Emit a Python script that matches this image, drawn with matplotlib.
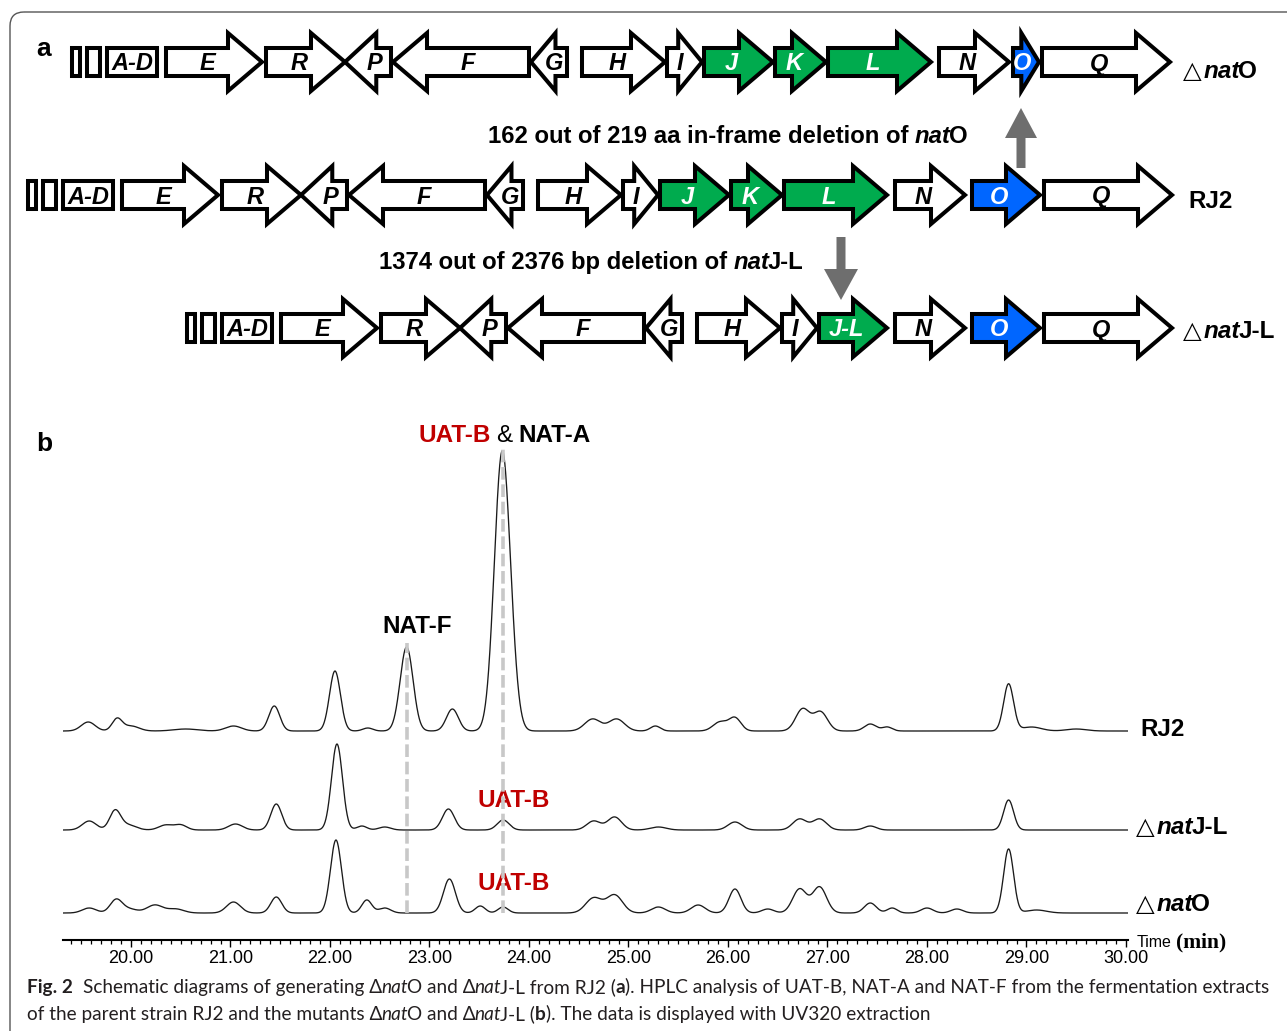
import matplotlib
matplotlib.use("Agg")
import matplotlib.pyplot as plt
from matplotlib.patches import Polygon, FancyBboxPatch, FancyArrow
from matplotlib.ticker import MultipleLocator
from matplotlib.transforms import offset_copy
import numpy as np

plt.rcParams["font.family"] = ["Liberation Sans", "DejaVu Sans"]

# ---- panel a: nat gene cluster of RJ2, left to right (map units) ----
gene_names = ["", "", "A-D", "E", "R", "P", "F", "G", "H", "I", "J", "K", "L", "N", "O", "Q"]
gene_len = [8, 13, 50, 96, 79, 46, 136, 36, 83, 35, 69, 51, 103, 70, 68, 128]
gene_gap = [0, 7, 7, 9, 4, 0, 2, 2, 15, 2, 2, 2, 2, 8, 7, 4]
gene_strand = [0, 0, 0, 1, 1, -1, -1, -1, 1, 1, 1, 1, 1, 1, 1, 1]
gene_group = ["other"] * 10 + ["jkl"] * 3 + ["other", "o", "other"]

natO_left = 26      # what is left of natO after the in-frame deletion
natJL_len = 68      # natJ-L remnant

# ---- panel b: HPLC peak tables (retention time, height, width) ----
rt_rj2 = [19.57, 19.86, 20.00, 20.55, 21.03, 21.44, 22.05, 22.38, 22.77, 23.23, 23.72, 23.80,
          24.64, 24.88, 25.27, 25.92, 26.07, 26.75, 26.93, 27.43, 27.60, 28.82, 29.05, 29.50]
h_rj2 = [9, 12, 5, 2, 5, 25, 60, 3, 84, 22, 246, 60,
         12, 12, 5, 9, 13, 22, 19, 7, 4, 47, 4, 2]
w_rj2 = [0.07, 0.05, 0.08, 0.12, 0.08, 0.055, 0.055, 0.05, 0.065, 0.06, 0.075, 0.07,
         0.08, 0.08, 0.05, 0.07, 0.06, 0.07, 0.07, 0.06, 0.05, 0.05, 0.1, 0.1]

rt_jl = [19.58, 19.84, 19.97, 20.35, 20.50, 21.05, 21.46, 22.07, 22.32, 22.55, 23.19, 23.74,
         24.65, 24.86, 25.30, 26.07, 26.72, 26.92, 27.43, 28.82]
h_jl = [9, 19, 5, 5, 5, 6, 26, 86, 4, 3, 21, 10,
        9, 13, 3, 8, 11, 11, 4, 30]
w_jl = [0.07, 0.055, 0.08, 0.07, 0.06, 0.07, 0.055, 0.055, 0.05, 0.06, 0.06, 0.06,
        0.07, 0.07, 0.08, 0.07, 0.07, 0.07, 0.06, 0.05]

rt_o = [19.58, 19.85, 19.98, 20.24, 20.45, 21.03, 21.46, 22.06, 22.37, 22.55, 23.20, 23.51, 23.74,
        24.65, 24.86, 25.30, 25.70, 26.07, 26.40, 26.72, 26.92, 27.43, 27.65, 28.00, 28.30, 28.82, 29.10]
h_o = [5, 13, 4, 8, 4, 11, 16, 73, 13, 5, 34, 7, 6,
       15, 18, 6, 8, 24, 4, 24, 26, 10, 5, 5, 4, 64, 3]
w_o = [0.07, 0.06, 0.08, 0.08, 0.08, 0.07, 0.055, 0.055, 0.05, 0.06, 0.06, 0.05, 0.05,
       0.08, 0.08, 0.07, 0.07, 0.06, 0.06, 0.07, 0.07, 0.06, 0.05, 0.06, 0.06, 0.05, 0.1]

rt_natF, rt_natA = 22.77, 23.74
xticks = [20, 21, 22, 23, 24, 25, 26, 27, 28, 29, 30]

fill = {"other": "white", "jkl": "#00AB4E", "o": "#0066FF"}
B = dict(fontweight="bold")
BI = dict(fontweight="bold", fontstyle="italic")
TRI = dict(family="DejaVu Sans")

fig = plt.figure(figsize=(12.87, 10.31), dpi=100)
ov = fig.add_axes([0, 0, 1, 1])
ov.set_xlim(0, 1287)
ov.set_ylim(1031, 0)
ov.axis("off")


def rich(x, y, pieces, size, ha="left", color="black"):
    r = fig.canvas.get_renderer()
    made = []
    for s, style, gap in pieces:
        kw = dict(fontsize=size, color=color)
        kw.update(style)
        t = ov.text(x, y, s, va="baseline", ha="left", **kw)
        made.append((t, t.get_window_extent(r).width + gap))
    total = sum(w for _, w in made)
    dx = {"left": 0, "center": -total / 2, "right": -total}[ha]
    for t, w in made:
        t.set_transform(offset_copy(ov.transData, fig=fig, x=dx, y=0, units="dots"))
        dx += w
    return total, [t for t, _ in made]


def strain(x, y, gene, size=17.5):
    rich(x, y, [("△", TRI, 2), ("nat", BI, -2), (gene, B, 0)], size)


def gene_arrow(x0, x1, yc, st, fc):
    bh, hh = 14, 29
    hl = min(34, 0.68 * (x1 - x0))
    if st == 0:
        pts = [(x0, yc - bh), (x1, yc - bh), (x1, yc + bh), (x0, yc + bh)]
    elif st > 0:
        xb = x1 - hl
        pts = [(x0, yc - bh), (xb, yc - bh), (xb, yc - hh), (x1, yc),
               (xb, yc + hh), (xb, yc + bh), (x0, yc + bh)]
    else:
        xb = x0 + hl
        pts = [(x1, yc - bh), (xb, yc - bh), (xb, yc - hh), (x0, yc),
               (xb, yc + hh), (xb, yc + bh), (x1, yc + bh)]
    ov.add_patch(Polygon(pts, closed=True, fc=fc, ec="black", lw=2.9, joinstyle="miter"))
    return hl


def draw_row(x, yc, names, lens, gaps, strands, groups):
    for name, L, g, st, grp in zip(names, lens, gaps, strands, groups):
        x0 = x + g
        x1 = x0 + L
        hl = gene_arrow(x0, x1, yc, st, fill[grp])
        if name:
            xc = (x0 + x1) / 2 - st * 0.2 * hl
            ov.text(xc, yc + 8.5, name, ha="center", va="baseline", fontsize=17,
                    color="black" if grp == "other" else "white", **BI)
        x = x1


# RJ2 (wild type)
draw_row(28, 195, gene_names, gene_len, gene_gap, gene_strand, gene_group)

# delta natO: natO shortened
lens_o = list(gene_len)
gaps_o = list(gene_gap)
lens_o[14] = natO_left
gaps_o[14], gaps_o[15] = 4, 3
draw_row(72, 62, gene_names, lens_o, gaps_o, gene_strand, gene_group)

# delta natJ-L: J, K, L merged into the J-L remnant
names_jl = gene_names[:10] + ["J-L"] + gene_names[13:]
lens_jl = gene_len[:10] + [natJL_len] + gene_len[13:]
gaps_jl = gene_gap[:10] + [2] + gene_gap[13:]
strand_jl = gene_strand[:10] + [1] + gene_strand[13:]
group_jl = gene_group[:10] + ["jkl"] + gene_group[13:]
draw_row(187, 328, names_jl, lens_jl, gaps_jl, strand_jl, group_jl)

# grey arrows between rows
ov.add_patch(FancyArrow(1021, 168, 0, -60, width=9, head_width=32, head_length=30,
                        length_includes_head=True, color="#6e6e6e", lw=0))
ov.add_patch(FancyArrow(841, 237, 0, 63, width=9, head_width=34, head_length=31,
                        length_includes_head=True, color="#6e6e6e", lw=0))

rich(728, 143, [("162 out of 219 aa in-frame deletion of", B, 6), ("nat", BI, -2), ("O", B, 0)],
     17.2, ha="center")
rich(591, 269, [("1374 out of 2376 bp deletion of", B, 6), ("nat", BI, -2), ("J-L", B, 0)],
     17.2, ha="center")

strain(1183, 78, "O")
ov.text(1188, 208, "RJ2", fontsize=17.5, va="baseline", **B)
strain(1183, 338, "J-L")

ov.text(36, 56, "a", fontsize=19, va="baseline", **B)
ov.text(36, 451, "b", fontsize=19, va="baseline", **B)

# frame
ov.add_patch(FancyBboxPatch((10, 12), 1400, 1100, boxstyle="round,pad=0,rounding_size=14",
                            fc="none", ec="#555555", lw=1.0))

# ---- panel b: chromatograms ----
px_per_min = 99.5
t_lo = 20 - 68 / px_per_min
t_hi = t_lo + 1065 / px_per_min
ax = fig.add_axes([63 / 1287, 91 / 1031, 1065 / 1287, 510 / 1031])
ax.set_facecolor("none")
ax.set_xlim(t_lo, t_hi)
ax.set_ylim(0, 510)

t = np.linspace(t_lo, t_hi, 4000)


def trace(rt, h, w):
    y = np.zeros_like(t)
    for c, a, s in zip(rt, h, w):
        y += a * np.exp(-0.5 * ((t - c) / s) ** 2)
    return y


base_rj2, base_jl, base_o = 209, 110, 27
y_rj2 = base_rj2 + trace(rt_rj2, h_rj2, w_rj2)
y_jl = base_jl + trace(rt_jl, h_jl, w_jl)
y_o = base_o + trace(rt_o, h_o, w_o)
for y in (y_rj2, y_jl, y_o):
    ax.plot(t, y, color="#1a1a1a", lw=0.95, zorder=2)

# grey dashed guides through NAT-F and NAT-A / UAT-B
for rt in (rt_natF, rt_natA):
    top = np.interp(rt, t, y_rj2) + 4
    ax.plot([rt, rt], [base_o, top], color="#c8c8c8", lw=2.6, dashes=(3.5, 1.3), zorder=3)

ax.set_xticks(xticks)
ax.set_xticklabels([f"{v:.2f}" for v in xticks])
ax.xaxis.set_minor_locator(MultipleLocator(0.1))
ax.tick_params(axis="x", which="major", direction="out", length=5, width=1, labelsize=13, pad=2)
ax.tick_params(axis="x", which="minor", direction="out", length=3, width=0.9)
ax.set_yticks([])
for s in ("left", "right", "top"):
    ax.spines[s].set_visible(False)
ax.spines["bottom"].set_linewidth(1.5)

rich(1137, 947, [("Time", dict(fontsize=11.5), 4),
                 ("(min)", dict(family="Liberation Serif", fontweight="bold", fontsize=15.5), 0)], 12)

# peak annotations
ov.text(417, 633, "NAT-F", fontsize=17.5, ha="center", va="baseline", **B)
rich(419, 442, [("UAT-B", dict(color="#C00000", fontweight="bold"), 5),
                ("&", {}, 6), ("NAT-A", B, 0)], 17.5)
ov.text(514, 807, "UAT-B", fontsize=17.5, ha="center", va="baseline", color="#C00000", **B)
ov.text(514, 890, "UAT-B", fontsize=17.5, ha="center", va="baseline", color="#C00000", **B)

ov.text(1140, 736, "RJ2", fontsize=17.5, va="baseline", **B)
strain(1136, 834, "J-L")
strain(1136, 911, "O")

# ---- caption ----
CAP = dict(family=["Lato", "DejaVu Sans"])
CAPI = dict(family=["Lato", "DejaVu Sans"], fontstyle="italic")
CAPB = dict(family=["Lato", "DejaVu Sans"], fontweight="bold")
line1 = [("Fig. 2", CAPB, 10), ("Schematic diagrams of generating Δ", CAP, -1), ("nat", CAPI, -1),
         ("O and Δ", CAP, -1), ("nat", CAPI, -1), ("J-L from RJ2 (", CAP, 0), ("a", CAPB, 0),
         ("). HPLC analysis of UAT-B, NAT-A and NAT-F from the fermentation extracts", CAP, 0)]
line2 = [("of the parent strain RJ2 and the mutants Δ", CAP, -1), ("nat", CAPI, -1),
         ("O and Δ", CAP, -1), ("nat", CAPI, -1), ("J-L (", CAP, 0), ("b", CAPB, 0),
         ("). The data is displayed with UV320 extraction", CAP, 0)]
w1, made = rich(27, 993, line1, 13, color="#231f20")
for m in made:
    m.remove()
cap_size = 13 * 1241 / w1
rich(27, 993, line1, cap_size, color="#231f20")
rich(27, 1020, line2, cap_size, color="#231f20")

fig.savefig("out.png", dpi=100)
